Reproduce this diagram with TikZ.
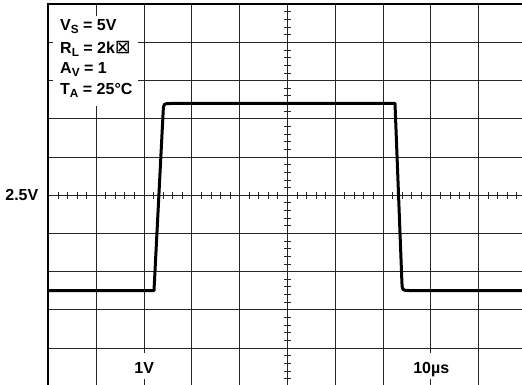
\documentclass[tikz,border=0pt]{standalone}
\usepackage{fontspec}
\setmainfont{Liberation Sans}
\newfontfamily\symfont{DejaVu Sans}
\newcommand\mysub[1]{\raisebox{-2.8pt}{\fontsize{11.8}{12}\selectfont #1}}
\begin{document}
\begin{tikzpicture}[x=1pt,y=-1pt,
  grid line/.style={draw=black!85,line width=1pt},
  tick line/.style={draw=black!85,line width=1pt},
  frame line/.style={draw=black,line width=2.2pt},
  wave/.style={draw=black,line width=3pt,line join=round},
  lbl/.style={font=\fontsize{16}{18}\selectfont\bfseries,inner sep=0pt},
  axlbl/.style={lbl,fill=white,text height=14pt,text depth=0pt,inner ysep=6pt,inner xsep=4pt}]
\useasboundingbox (0,0) rectangle (522,385);
\begin{scope}
  \clip (48.3,4.3) rectangle (522,385);
  \foreach \i in {1,...,10}
    \draw[grid line] (48.5+\i*47.8,4.3) -- (48.5+\i*47.8,385);
  \foreach \j in {1,...,10}
    \draw[grid line] (48.3,4.3+\j*38.2) -- (522,4.3+\j*38.2);
  \foreach \k in {1,...,49}
    \draw[tick line] (283.5,4.3+\k*7.64) -- (290.5,4.3+\k*7.64);
  \foreach \k in {1,...,49}
    \draw[tick line] (48.5+\k*9.56,192) -- (48.5+\k*9.56,199);
\end{scope}
\fill[white] (53,16) rectangle (138,106);
\draw[frame line] (48.3,385) -- (48.3,4.3) -- (522,4.3);
\draw[wave] (48.3,290.5) -- (154,290.5) -- (163.2,111)
  .. controls (163.6,103.5) .. (171,103.5) -- (395,103.5) -- (401.9,282)
  .. controls (402.3,290.5) .. (409,290.5) -- (522,290.5);
\node[lbl,anchor=base west] (vs) at (60,30.7) {V\mysub{S} = 5V};
\node[lbl,anchor=base west] (rl) at (60,53.3) {R\mysub{L} = 2k{\symfont\mdseries\fontsize{19}{20}\selectfont ⊠}};
\node[lbl,anchor=base west] (av) at (60,74) {A\mysub{V} = 1};
\node[lbl,anchor=base west] (ta) at (60,94.7) {T\mysub{A} = 25°C};
\node[lbl,anchor=base east] (half) at (38.5,200.7) {2.5V};
\node[axlbl,anchor=base] (onev) at (144.2,373.3) {1V};
\node[axlbl,anchor=base] (tenus) at (431.3,373.3) {10µs};
\end{tikzpicture}
\end{document}
